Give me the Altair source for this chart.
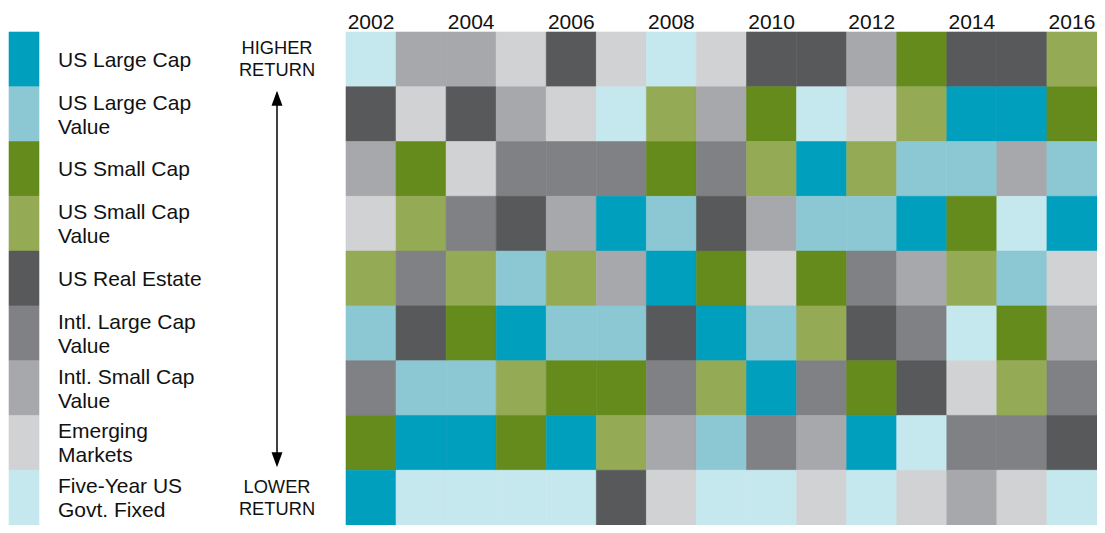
import altair as alt
import pandas as pd

# ---------------- data ----------------
years = list(range(2002, 2017))
labeled_years = [2002, 2004, 2006, 2008, 2010, 2012, 2014, 2016]

codes = ["LC", "LCV", "SC", "SCV", "RE", "ILV", "ISV", "EM", "FI"]
names = [
    "US Large Cap",
    "US Large Cap\nValue",
    "US Small Cap",
    "US Small Cap\nValue",
    "US Real Estate",
    "Intl. Large Cap\nValue",
    "Intl. Small Cap\nValue",
    "Emerging\nMarkets",
    "Five-Year US\nGovt. Fixed",
]
colors = ["#009FBD", "#8CC8D3", "#648B1C", "#94AA55", "#58595B",
          "#808184", "#A7A8AB", "#D1D2D4", "#C5E8EE"]

# ranking per year, best (rank 1) first
ranking = {
    2002: ["FI", "RE", "ISV", "EM", "SCV", "LCV", "ILV", "SC", "LC"],
    2003: ["ISV", "EM", "SC", "SCV", "ILV", "RE", "LCV", "LC", "FI"],
    2004: ["ISV", "RE", "EM", "ILV", "SCV", "SC", "LCV", "LC", "FI"],
    2005: ["EM", "ISV", "ILV", "RE", "LCV", "LC", "SCV", "SC", "FI"],
    2006: ["RE", "EM", "ILV", "ISV", "SCV", "LCV", "SC", "LC", "FI"],
    2007: ["EM", "FI", "ILV", "LC", "ISV", "LCV", "SC", "SCV", "RE"],
    2008: ["FI", "SCV", "SC", "LCV", "LC", "RE", "ILV", "ISV", "EM"],
    2009: ["EM", "ISV", "ILV", "RE", "SC", "LC", "SCV", "LCV", "FI"],
    2010: ["RE", "SC", "SCV", "ISV", "EM", "LCV", "LC", "ILV", "FI"],
    2011: ["RE", "FI", "LC", "LCV", "SC", "SCV", "ILV", "ISV", "EM"],
    2012: ["ISV", "EM", "SCV", "LCV", "ILV", "RE", "SC", "LC", "FI"],
    2013: ["SC", "SCV", "LCV", "LC", "ISV", "ILV", "RE", "FI", "EM"],
    2014: ["RE", "LC", "LCV", "SC", "SCV", "FI", "EM", "ILV", "ISV"],
    2015: ["RE", "LC", "ISV", "FI", "LCV", "SC", "SCV", "ILV", "EM"],
    2016: ["SCV", "SC", "LCV", "LC", "EM", "ISV", "ILV", "RE", "FI"],
}

arrow_labels = ["HIGHER\nRETURN", "LOWER\nRETURN"]
arrow_label_rows = [1, 9]

# ---------------- tables ----------------
grid_rows = []
for y in years:
    for i, c in enumerate(ranking[y]):
        grid_rows.append({"year": y, "rank": i + 1, "code": c})
grid_df = pd.DataFrame(grid_rows)
grid_df["y0"] = grid_df["rank"] - 0.5
grid_df["y1"] = grid_df["rank"] + 0.5

legend_df = pd.DataFrame({"code": codes, "name": names,
                          "row": list(range(1, len(codes) + 1))})
legend_df["y0"] = legend_df["row"] - 0.5
legend_df["y1"] = legend_df["row"] + 0.5
legend_df["lines"] = legend_df["name"].str.count("\n") + 1

arrow_df = pd.DataFrame({"top": [1.5], "bottom": [8.5]})
head_df = pd.DataFrame({"pos": [1.5, 8.5], "dir": ["up", "down"]})
alabel_df = pd.DataFrame({"row": arrow_label_rows, "label": arrow_labels})

# ---------------- scales ----------------
FONT = "Liberation Sans"
TXT = "#111111"
yscale = alt.Scale(domain=[0.5, 9.5], reverse=True, nice=False, zero=False)
cscale = alt.Scale(domain=codes, range=colors)
ARROW_X = 269

grid = alt.Chart(grid_df).mark_rect(strokeWidth=0.6).encode(
    x=alt.X("year:O",
            scale=alt.Scale(range=[338, 1089], paddingInner=0, paddingOuter=0),
            axis=alt.Axis(orient="top", values=labeled_years, title=None,
                          domain=False, ticks=False, tickSize=0,
                          labelPadding=4, labelBaseline="alphabetic",
                          labelAngle=0, labelFont=FONT, labelFontSize=21,
                          labelColor=TXT)),
    y=alt.Y("y0:Q", scale=yscale, axis=None),
    y2="y1:Q",
    color=alt.Color("code:N", scale=cscale, legend=None),
    stroke=alt.Stroke("code:N", scale=cscale, legend=None),
)

swatches = alt.Chart(legend_df).mark_rect(strokeWidth=0.6).encode(
    x=alt.value(1), x2=alt.value(31),
    y=alt.Y("y0:Q", scale=yscale, axis=None),
    y2="y1:Q",
    color=alt.Color("code:N", scale=cscale, legend=None),
    stroke=alt.Stroke("code:N", scale=cscale, legend=None),
)

def legend_text(n_lines, dy):
    return alt.Chart(legend_df).transform_filter(
        alt.datum.lines == n_lines
    ).mark_text(
        align="left", baseline="middle", font=FONT, fontSize=21,
        lineBreak="\n", lineHeight=24, dy=dy, color=TXT
    ).encode(
        x=alt.value(50),
        y=alt.Y("row:Q", scale=yscale, axis=None),
        text="name:N",
    )

legend_one = legend_text(1, 1.5)
legend_two = legend_text(2, -10.5)

rule = alt.Chart(arrow_df).mark_rule(
    color="#000000", strokeWidth=1.5, yOffset=6, y2Offset=-6
).encode(
    x=alt.value(ARROW_X),
    y=alt.Y("top:Q", scale=yscale, axis=None),
    y2="bottom:Q",
)

up_head = alt.Chart(head_df).transform_filter(alt.datum.dir == "up").mark_point(
    shape="M0,-1L0.73,1L-0.73,1Z", filled=True, size=225, opacity=1,
    color="#000000", yOffset=11.5
).encode(x=alt.value(ARROW_X), y=alt.Y("pos:Q", scale=yscale, axis=None))

down_head = alt.Chart(head_df).transform_filter(alt.datum.dir == "down").mark_point(
    shape="M0,1L0.73,-1L-0.73,-1Z", filled=True, size=225, opacity=1,
    color="#000000", yOffset=-10.5
).encode(x=alt.value(ARROW_X), y=alt.Y("pos:Q", scale=yscale, axis=None))

arrow_text = alt.Chart(alabel_df).mark_text(
    align="center", baseline="middle", font=FONT, fontSize=18.3,
    lineBreak="\n", lineHeight=22, dy=-10, color=TXT
).encode(
    x=alt.value(ARROW_X),
    y=alt.Y("row:Q", scale=yscale, axis=None),
    text="label:N",
)

chart = alt.layer(
    grid, swatches, legend_one, legend_two, rule, up_head, down_head, arrow_text
).properties(
    width=1089, height=493,
    padding={"left": 0, "top": 24, "right": 0, "bottom": 0},
    autosize=alt.AutoSizeParams(type="none"),
).configure_view(stroke=None)

chart.save("out.html", embed_options={"renderer": "svg", "actions": False})
